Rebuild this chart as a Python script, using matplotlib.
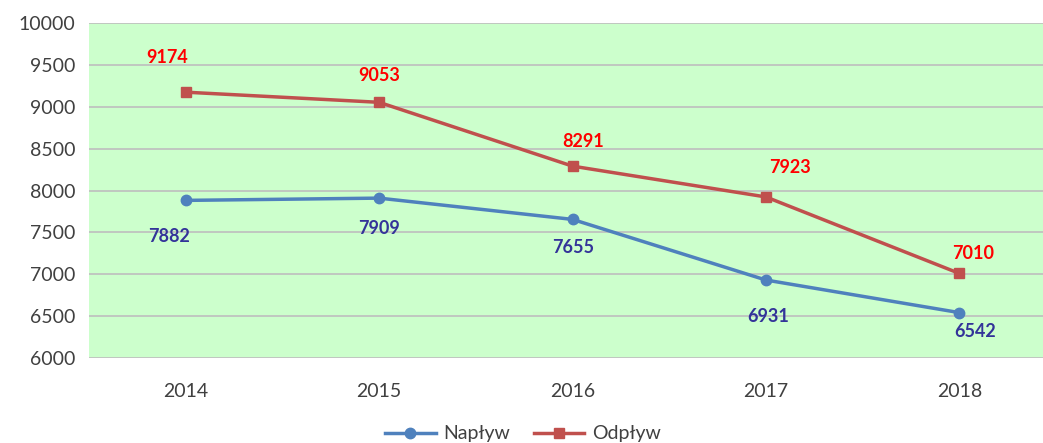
import matplotlib.pyplot as plt

years = ["2014", "2015", "2016", "2017", "2018"]
naplyw = [7882, 7909, 7655, 6931, 6542]
odplyw = [9174, 9053, 8291, 7923, 7010]

# label offsets in pixels (dx, dy), as placed in the original chart
naplyw_offsets = [(-17, -36), (0, -30), (1, -28), (2, -36), (16, -19)]
odplyw_offsets = [(-19, 35), (0, 27), (11, 25), (24, 29), (14, 20)]

BLUE = "#4F81BD"
RED = "#C0504D"

plt.rcParams["font.family"] = ["Lato", "DejaVu Sans"]

fig = plt.figure(figsize=(10.43, 4.43), dpi=100)
ax = fig.add_axes([89 / 1043, 85 / 443, 967 / 1043, 335 / 443])
ax.set_facecolor("#CCFFCC")

x = range(len(years))
ax.plot(x, naplyw, color=BLUE, lw=2.5, marker="o", ms=7.5, label="Napływ", zorder=3)
ax.plot(x, odplyw, color=RED, lw=2.5, marker="s", ms=7.5, label="Odpływ", zorder=3)

for i, v in enumerate(naplyw):
    ax.annotate(str(v), (i, v), xytext=naplyw_offsets[i], textcoords="offset pixels",
                ha="center", va="center", color="#333399", fontsize=13, fontweight="bold")
for i, v in enumerate(odplyw):
    ax.annotate(str(v), (i, v), xytext=odplyw_offsets[i], textcoords="offset pixels",
                ha="center", va="center", color="#FF0000", fontsize=13, fontweight="bold")

ax.set_xlim(-0.5, len(years) - 0.5)
ax.set_ylim(6000, 10000)
ax.set_yticks(range(6000, 10001, 500))
ax.set_xticks(list(x))
ax.set_xticklabels(years)
ax.grid(axis="y", color="#BEBEBE", lw=1.2)
ax.set_axisbelow(True)
for s in ax.spines.values():
    s.set_visible(False)
ax.tick_params(length=0, labelsize=14, colors="#404040")
ax.tick_params(axis="x", pad=18)
ax.tick_params(axis="y", pad=10)

fig.legend(loc="center", bbox_to_anchor=(523 / 1043, 9 / 443), ncol=2, frameon=False,
           fontsize=14, labelcolor="#404040", handlelength=2.6, handletextpad=0.4,
           columnspacing=1.2)

fig.savefig("out.png", dpi=100)
